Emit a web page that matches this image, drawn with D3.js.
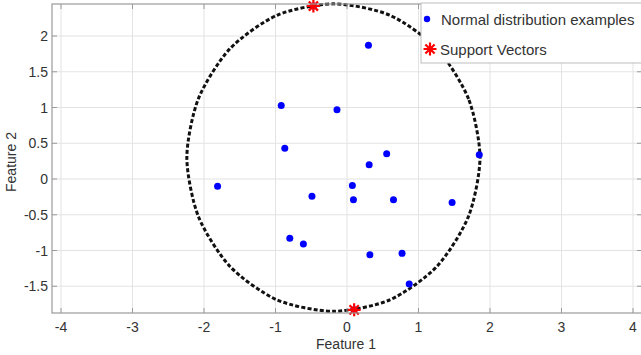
<!DOCTYPE html>
<html><head><meta charset="utf-8">
<script src="https://cdn.jsdelivr.net/npm/d3@7"></script>
<style>body{margin:0;background:#fff}svg{display:block}text{font-family:"Liberation Sans",Arial,sans-serif}</style>
</head><body>
<script>
// Data
const xTicks = [-4,-3,-2,-1,0,1,2,3,4];
const yTicks = [-1.5,-1,-0.5,0,0.5,1,1.5,2];
const yTickLabels = ["-1.5","-1","-0.5","0","0.5","1","1.5","2"];
const normalX = [0.30,-0.92,-0.14,-0.87,0.555,0.31,1.85,-1.81,0.075,-0.49,0.09,0.65,1.47,-0.80,-0.61,0.32,0.77,0.87,-0.47,0.10];
const normalY = [1.87,1.03,0.97,0.43,0.354,0.20,0.34,-0.10,-0.09,-0.24,-0.29,-0.29,-0.33,-0.83,-0.91,-1.06,-1.04,-1.47,2.42,-1.83];
const svX = [-0.47,0.10];
const svY = [2.42,-1.83];
const boundaryX = [1.86,1.70,1.26,0.60,-0.19,-0.98,-1.64,-2.08,-2.24,-2.08,-1.64,-0.98,-0.19,0.60,1.26,1.70];
const boundaryY = [0.30,1.12,1.82,2.29,2.45,2.29,1.82,1.12,0.30,-0.52,-1.22,-1.69,-1.85,-1.69,-1.22,-0.52];
const legendLabels = ["Normal distribution examples","Support Vectors"];
const xLabel = "Feature 1", yLabel = "Feature 2";

const W = 641, H = 355;
const L = 52, R = 642, T = 4, B = 313;
const svg = d3.select("body").append("svg").attr("width", W).attr("height", H);
const x = d3.scaleLinear().domain([-4.126, 4.126]).range([L, R]);
const y = d3.scaleLinear().domain([-1.874, 2.448]).range([B, T]);

// grid
svg.append("g").selectAll("line").data(xTicks).join("line")
  .attr("x1", d=>x(d)).attr("x2", d=>x(d)).attr("y1", T).attr("y2", B)
  .attr("stroke", "#e3e3e3").attr("stroke-width", 1);
svg.append("g").selectAll("line").data(yTicks).join("line")
  .attr("y1", d=>y(d)).attr("y2", d=>y(d)).attr("x1", L).attr("x2", R)
  .attr("stroke", "#e3e3e3").attr("stroke-width", 1);

// boundary
const bpts = boundaryX.map((v,i)=>[v, boundaryY[i]]);
svg.append("path").datum(bpts)
  .attr("d", d3.line().x(d=>x(d[0])).y(d=>y(d[1])).curve(d3.curveCardinalClosed.tension(0.2)))
  .attr("fill","none").attr("stroke","#111").attr("stroke-width",3)
  .attr("stroke-dasharray","4,2.2");

// points
svg.append("g").selectAll("circle").data(normalX.map((v,i)=>[v,normalY[i]])).join("circle")
  .attr("cx", d=>x(d[0])).attr("cy", d=>y(d[1])).attr("r", 3.5).attr("fill", "#0000ff");

// star marker
function star(g, cx, cy, r) {
  const p = d3.path();
  for (let k=0;k<4;k++){
    const a = k*Math.PI/4;
    p.moveTo(cx - r*Math.cos(a), cy - r*Math.sin(a));
    p.lineTo(cx + r*Math.cos(a), cy + r*Math.sin(a));
  }
  g.append("path").attr("d", p.toString()).attr("stroke","#ff0000").attr("stroke-width",2.2).attr("fill","none");
}
const sg = svg.append("g");
svX.forEach((v,i)=>star(sg, x(v), y(svY[i]), 6.5));

// axes box
const axc = "#9a9a9a";
svg.append("rect").attr("x",L).attr("y",T).attr("width",R-L).attr("height",B-T)
  .attr("fill","none").attr("stroke",axc).attr("stroke-width",1.2);
const tk = svg.append("g").attr("stroke",axc).attr("stroke-width",1);
xTicks.forEach(t=>{
  tk.append("line").attr("x1",x(t)).attr("x2",x(t)).attr("y1",B).attr("y2",B-5);
  tk.append("line").attr("x1",x(t)).attr("x2",x(t)).attr("y1",T).attr("y2",T+5);
});
yTicks.forEach(t=>{
  tk.append("line").attr("y1",y(t)).attr("y2",y(t)).attr("x1",L).attr("x2",L+5);
  tk.append("line").attr("y1",y(t)).attr("y2",y(t)).attr("x1",R).attr("x2",R-5);
});

// tick labels
svg.append("g").selectAll("text").data(xTicks).join("text")
  .attr("x", d=>x(d)).attr("y", 332).attr("text-anchor","middle")
  .attr("font-size",14).attr("fill","#333").text(d=>d);
svg.append("g").selectAll("text").data(yTicks).join("text")
  .attr("x", 48).attr("y", d=>y(d)+5).attr("text-anchor","end")
  .attr("font-size",14).attr("fill","#333").text((d,i)=>yTickLabels[i]);

// axis labels
svg.append("text").attr("x", 346).attr("y", 349).attr("text-anchor","middle")
  .attr("font-size",14).attr("fill","#333").text(xLabel);
svg.append("text").attr("transform","translate(16,162) rotate(-90)").attr("text-anchor","middle")
  .attr("font-size",14).attr("fill","#333").text(yLabel);

// legend
const lg = svg.append("g");
lg.append("rect").attr("x",421).attr("y",3).attr("width",240).attr("height",60)
  .attr("fill","#fff").attr("stroke","#bdbdbd").attr("stroke-width",1);
lg.append("circle").attr("cx",427).attr("cy",19).attr("r",3.2).attr("fill","#0000ff");
lg.append("text").attr("x",441).attr("y",24.5).attr("font-size",15).attr("fill","#333").text(legendLabels[0]);
star(lg, 430, 49, 6.5);
lg.append("text").attr("x",440).attr("y",54.5).attr("font-size",15).attr("fill","#333").text(legendLabels[1]);
</script>
</body></html>
